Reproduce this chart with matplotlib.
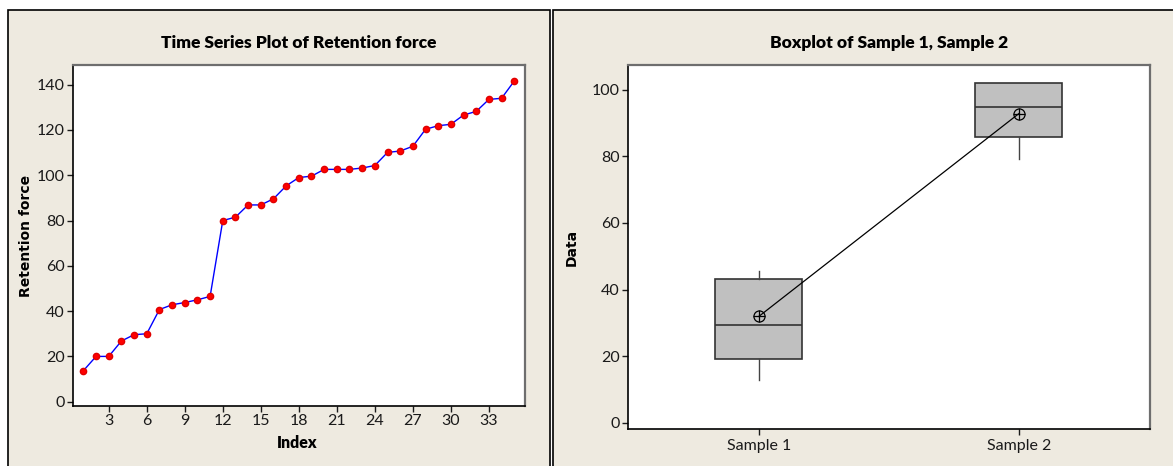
import numpy as np
import matplotlib.pyplot as plt
from matplotlib.patches import Rectangle

# time series data (Retention force)
retention = [13.7, 20.0, 20.0, 26.8, 29.6, 30.0, 40.7, 42.8, 43.8, 45.0,
             46.5, 80.0, 81.5, 86.9, 86.9, 89.6, 95.3, 99.0, 99.6, 102.6,
             102.6, 102.6, 103.2, 104.3, 110.1, 110.7, 112.8, 120.3, 121.9, 122.5,
             126.6, 128.2, 133.5, 134.0, 141.6]
index_ticks = [3, 6, 9, 12, 15, 18, 21, 24, 27, 30, 33]

# boxplot summary values
samples = ["Sample 1", "Sample 2"]
q1 = [19.1, 85.7]
median = [29.3, 94.8]
q3 = [43.3, 102.0]
whisk_lo = [13.0, 79.2]
whisk_hi = [45.5, 102.0]
means = [32.0, 92.8]

BG = "#EEEAE0"
plt.rcParams["font.family"] = ["Lato", "DejaVu Sans"]

W, H = 1173, 466
fig = plt.figure(figsize=(W / 100, H / 100), dpi=100)
fig.patch.set_facecolor("white")


def px(x0, y0, x1, y1):
    # pixel box -> figure fraction rect
    return [x0 / W, 1 - y1 / H, (x1 - x0) / W, (y1 - y0) / H]


# panel backgrounds
for (x0, x1) in [(8, 550), (553, 1180)]:
    r = Rectangle((x0 / W, -0.01), (x1 - x0) / W, (H - 10) / H + 0.01,
                  transform=fig.transFigure, facecolor=BG, edgecolor="black",
                  lw=1.2, zorder=0)
    fig.add_artist(r)


def style_axes(ax):
    ax.set_facecolor("white")
    for s in ["left", "bottom"]:
        ax.spines[s].set_color("black")
        ax.spines[s].set_linewidth(1.2)
    for s in ["top", "right"]:
        ax.spines[s].set_color("#6e6e6e")
        ax.spines[s].set_linewidth(1.6)
    ax.tick_params(top=False, right=False, direction="out", length=4,
                   width=1, labelsize=11.5, colors="#1a1a1a", pad=2)


# left: time series
ax1 = fig.add_axes(px(73, 65, 525, 406))
style_axes(ax1)
idx = np.arange(1, len(retention) + 1)
ax1.plot(idx, retention, color="#0000FF", lw=1, zorder=2)
ax1.plot(idx, retention, "o", color="#FF0000", ms=4.5, mec="#E00000", zorder=3)
ax1.set_xlim(0.18, 35.85)
ax1.set_ylim(-1.9, 148.7)
ax1.set_xticks(index_ticks)
ax1.set_yticks(range(0, 141, 20))
ax1.set_title("Time Series Plot of Retention force", fontsize=12.5,
              fontweight="heavy", pad=12)
ax1.set_xlabel("Index", fontsize=11.5, fontweight="heavy")
ax1.xaxis.set_label_coords(0.496, -0.085)
ax1.set_ylabel("Retention force", fontsize=10, fontweight="bold",
               family="DejaVu Sans")
ax1.yaxis.set_label_coords(-0.088, 0.5)

# right: boxplot
ax2 = fig.add_axes(px(628, 65, 1150, 429))
style_axes(ax2)
stats = [dict(label=s, q1=a, med=m, q3=b, whislo=lo, whishi=hi, fliers=[])
         for s, a, m, b, lo, hi in zip(samples, q1, median, q3, whisk_lo, whisk_hi)]
pos = np.arange(1, len(samples) + 1)
ax2.bxp(stats, positions=pos, widths=0.335, patch_artist=True, showcaps=False,
        boxprops=dict(facecolor="#C0C0C0", edgecolor="#333333", lw=1.2),
        medianprops=dict(color="#333333", lw=1.2),
        whiskerprops=dict(color="#444444", lw=1))
ax2.plot(pos, means, color="black", lw=0.9, zorder=4)
ax2.plot(pos, means, "o", mfc="none", mec="black", ms=8, mew=0.9, zorder=5)
ax2.plot(pos, means, "+", color="black", ms=8, mew=0.9, zorder=5)
ax2.set_xlim(0.496, 2.505)
ax2.set_ylim(-1.8, 107.4)
ax2.set_yticks(range(0, 101, 20))
ax2.set_xticks(pos, samples)
ax2.tick_params(axis="x", pad=3)
ax2.set_title("Boxplot of Sample 1, Sample 2", fontsize=12.5,
              fontweight="heavy", pad=12)
ax2.set_ylabel("Data", fontsize=10, fontweight="bold", family="DejaVu Sans")
ax2.yaxis.set_label_coords(-0.094, 0.5)

fig.savefig("out.png", dpi=100, facecolor=fig.get_facecolor())
